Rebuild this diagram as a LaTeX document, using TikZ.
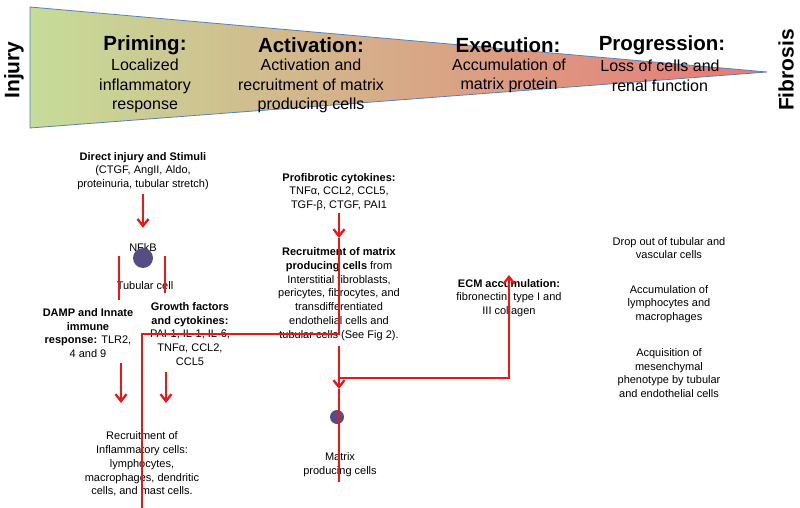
\documentclass[tikz,border=0pt]{standalone}
\usepackage{fontspec}
\setmainfont{Liberation Sans}
\usetikzlibrary{arrows.meta,positioning}
\definecolor{injgreen}{RGB}{198,220,152}
\definecolor{midtan}{RGB}{212,190,150}
\definecolor{fibred}{RGB}{232,120,118}
\definecolor{edgeblue}{RGB}{84,130,190}
\definecolor{cellpurple}{RGB}{88,76,134}
\definecolor{linered}{RGB}{236,22,22}

\begin{document}
\begin{tikzpicture}[x=1pt, y=-1pt, >={Straight Barb[length=7pt,width=11pt]}]
        \tikzstyle{stage}=[font=\fontsize{20.5}{24}\selectfont\bfseries, inner sep=0pt]
        \tikzstyle{stagetxt}=[align=center, font=\fontsize{16}{19.5}\selectfont, inner sep=0pt]
        \tikzstyle{endpt}=[font=\fontsize{21}{24}\selectfont\bfseries, rotate=90, inner sep=0pt]
        \tikzstyle{txt}=[align=center, font=\fontsize{11}{13.8}\selectfont, inner sep=0pt]
        \tikzstyle{cell}=[circle, fill=cellpurple, inner sep=0pt]
        \tikzstyle{redline}=[draw=linered, line width=2.3pt]
        \useasboundingbox (0,0) rectangle (800,508);
        \fill[white] (0,0) rectangle (800,508);
        \draw[edgeblue, line width=0.8pt, left color=injgreen, middle color=midtan, right color=fibred]
            (30,7) -- (767,72) -- (30,128) -- cycle;
        \node[endpt]    (injury)        at (14,70)      {Injury};
        \node[endpt]    (fibrosis)      at (786,70)     {Fibrosis};
        \node[stage]    (priming)       at (145,45)     {Priming:};
        \node[stagetxt] (primingtxt)    at (145,86)     {Localized\\inflammatory\\response};
        \node[stage]    (activation)    at (311,45)     {Activation:};
        \node[stagetxt] (activationtxt) at (311,86)     {Activation and\\recruitment of matrix\\producing cells};
        \node[stage]    (execution)     at (508,45)     {Execution:};
        \node[stagetxt] (executiontxt)  at (509,76)     {Accumulation of\\matrix protein};
        \node[stage]    (progression)   at (662,45)     {Progression:};
        \node[stagetxt] (progressiontxt) at (660,76)    {Loss of cells and\\renal function};
        \node[txt]      (stimuli)       at (143,171)    {\textbf{Direct injury and Stimuli}\\(CTGF, AngII, Aldo,\\proteinuria, tubular stretch)};
        \node[txt]      (nfkb)          at (143,248)    {NFkB};
        \node[cell, minimum size=20pt] (tubcell) at (143,258) {};
        \node[txt]      (tubtxt)        at (145,286)    {Tubular cell};
        \node[txt]      (damp)          at (88,333)     {\textbf{DAMP and Innate}\\\textbf{immune}\\\textbf{response:} TLR2,\\4 and 9};
        \node[txt]      (growth)        at (190,334)    {\textbf{Growth factors}\\\textbf{and cytokines:}\\PAI-1, IL-1, IL-6,\\TNFα, CCL2,\\CCL5};
        \node[txt]      (inflam)        at (142,464)    {Recruitment of\\Inflammatory cells:\\lymphocytes,\\macrophages, dendritic\\cells, and mast cells.};
        \node[txt]      (profib)        at (339,192)    {\textbf{Profibrotic cytokines:}\\TNFα, CCL2, CCL5,\\TGF-β, CTGF, PAI1};
        \node[txt]      (recruit)       at (339,294)    {\textbf{Recruitment of matrix}\\\textbf{producing cells} from\\Interstitial fibroblasts,\\pericytes, fibrocytes, and\\transdifferentiated\\endothelial cells and\\tubular cells (See Fig 2).};
        \node[cell, minimum size=14pt] (mcell) at (337,417) {};
        \node[txt]      (mtxt)          at (340,465)    {Matrix\\producing cells};
        \node[txt]      (ecm)           at (509,298)    {\textbf{ECM accumulation:}\\fibronectin, type I and\\III collagen};
        \node[txt]      (dropout)       at (669,248)    {Drop out of tubular and\\vascular cells};
        \node[txt]      (accum)         at (669,304)    {Accumulation of\\lymphocytes and\\macrophages};
        \node[txt]      (acqui)         at (669,373)    {Acquisition of\\mesenchymal\\phenotype by tubular\\and endothelial cells};
        \coordinate     (dampin)        at (119,256);
        \coordinate     (dampout)       at (119,300);
        \coordinate     (growin)        at (165,256);
        \coordinate     (growout)       at (165,293);
        \coordinate     (dampa)         at (121,363);
        \coordinate     (dampb)         at (121,403);
        \coordinate     (growa)         at (166,372);
        \coordinate     (growb)         at (166,403);
        \coordinate     (profa)         at (339,213);
        \coordinate     (profb)         at (339,238);
        \coordinate     (bendR)         at (339,334);
        \coordinate     (bendL)         at (142,334);
        \coordinate     (inflbot)       at (142,508);
        \coordinate     (matra)         at (339,346);
        \coordinate     (matrb)         at (339,389);
        \coordinate     (matrc)         at (339,482);
        \coordinate     (ecmfoot)       at (339,378);
        \coordinate     (ecmbend)       at (509,378);
        \coordinate     (ecmtop)        at (509,275);
        \path[redline]
        (stimuli) edge[->, shorten <=4pt, shorten >=16pt] (nfkb)
        (dampin) edge (dampout)
        (growin) edge (growout)
        (dampa) edge[->] (dampb)
        (growa) edge[->] (growb)
        (profa) edge[->] (profb)
        (matra) edge[->] (matrb)
        (matrb) edge (matrc);
        \draw[redline] (profb) -- (bendR) -- (bendL) -- (inflbot);
        \draw[redline, ->] (ecmfoot) -- (ecmbend) -- (ecmtop);
\end{tikzpicture}
\end{document}
